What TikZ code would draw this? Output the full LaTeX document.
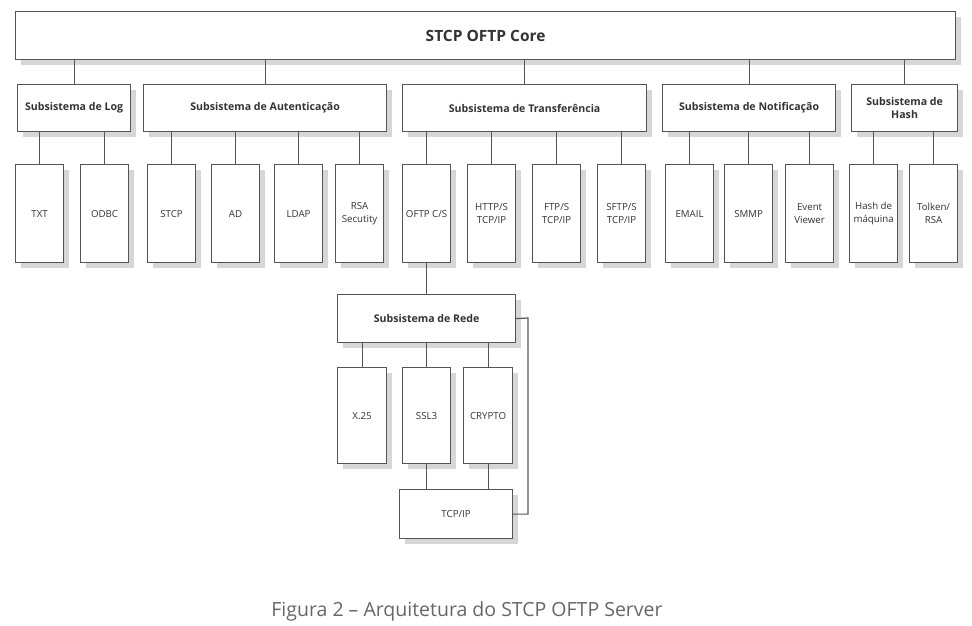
\documentclass[tikz,border=0pt]{standalone}
\usepackage{fontspec}
\setmainfont{Open Sans}
\usetikzlibrary{shadows}
\definecolor{linegray}{HTML}{555555}
\definecolor{shadowgray}{HTML}{D6D6D6}
\definecolor{txtgray}{HTML}{333333}
\definecolor{capgray}{HTML}{666666}
\tikzset{
  box/.style={draw=linegray, line width=1.2pt, fill=white, inner sep=1pt, anchor=north west,
    text=txtgray, align=center,
    drop shadow={shadow xshift=5pt, shadow yshift=-5pt, fill=shadowgray, opacity=1}},
  subbox/.style={box, font=\fontsize{10.6}{13}\selectfont\bfseries, minimum height=47pt},
  leaf/.style={box, font=\fontsize{9.7}{12.5}\selectfont, minimum height=98pt, minimum width=48pt},
  conn/.style={draw=linegray, line width=1.2pt}
}
\begin{document}
\begin{tikzpicture}[x=1pt,y=-1pt]
\useasboundingbox (0,0) rectangle (972,625);
% core
\node[box, minimum width=940pt, minimum height=48pt, font=\fontsize{15.5}{18}\selectfont\bfseries] (core) at (15,11) {STCP OFTP Core};
% level 2
\node[subbox, minimum width=113pt] (log) at (17,84) {Subsistema de Log};
\node[subbox, minimum width=243pt] (aut) at (143,84) {Subsistema de Autenticação};
\node[subbox, minimum width=244pt] (trf) at (402,84) {Subsistema de Transferência};
\node[subbox, minimum width=173pt] (ntf) at (662,84) {Subsistema de Notificação};
\node[subbox, minimum width=106pt] (hsh) at (851,84) {Subsistema de\\Hash};
% level 3
\node[leaf] (txt) at (15,164) {TXT};
\node[leaf] (odbc) at (80,164) {ODBC};
\node[leaf] (stcp) at (147,164) {STCP};
\node[leaf] (ad) at (211,164) {AD};
\node[leaf] (ldap) at (274,164) {LDAP};
\node[leaf] (rsa) at (335,164) {RSA\\Secutity};
\node[leaf] (oftp) at (402,164) {OFTP C/S};
\node[leaf] (http) at (467,164) {HTTP/S\\TCP/IP};
\node[leaf] (ftp) at (532,164) {FTP/S\\TCP/IP};
\node[leaf] (sftp) at (597,164) {SFTP/S\\TCP/IP};
\node[leaf] (email) at (665,164) {EMAIL};
\node[leaf] (smmp) at (724,164) {SMMP};
\node[leaf] (event) at (785,164) {Event\\Viewer};
\node[leaf] (hmaq) at (849,164) {Hash de\\máquina};
\node[leaf] (tolk) at (909,164) {Tolken/\\RSA};
% network subsystem
\node[subbox, minimum width=178pt, minimum height=48pt] (rede) at (337,294) {Subsistema de Rede};
\node[leaf, minimum width=49pt, minimum height=96pt] (x25) at (337,367) {X.25};
\node[leaf, minimum width=48pt, minimum height=96pt] (ssl) at (402,367) {SSL3};
\node[leaf, minimum width=49pt, minimum height=96pt] (crypto) at (463,367) {CRYPTO};
\node[leaf, minimum width=113pt, minimum height=49pt] (tcp) at (399,489) {TCP/IP};
% connectors
\foreach \c in {log,aut,trf,ntf,hsh}
  \draw[conn] (\c.north) -- (\c.north |- core.south);
\foreach \c in {txt,odbc}
  \draw[conn] (\c.north) -- (\c.north |- log.south);
\foreach \c in {stcp,ad,ldap,rsa}
  \draw[conn] (\c.north) -- (\c.north |- aut.south);
\foreach \c in {oftp,http,ftp,sftp}
  \draw[conn] (\c.north) -- (\c.north |- trf.south);
\foreach \c in {email,smmp,event}
  \draw[conn] (\c.north) -- (\c.north |- ntf.south);
\foreach \c in {hmaq,tolk}
  \draw[conn] (\c.north) -- (\c.north |- hsh.south);
\draw[conn] (rede.north) -- (rede.north |- oftp.south);
\foreach \c in {x25,ssl,crypto}
  \draw[conn] (\c.north) -- (\c.north |- rede.south);
\foreach \c in {ssl,crypto}
  \draw[conn] (\c.south) -- (\c.south |- tcp.north);
\coordinate (side) at (528,318);
\draw[conn] (rede.east) -- (side) |- (tcp.east);
% caption
\node[text=capgray, font=\fontsize{19.5}{22}\selectfont] (cap) at (467,611) {Figura 2 – Arquitetura do STCP OFTP Server};
\end{tikzpicture}
\end{document}
